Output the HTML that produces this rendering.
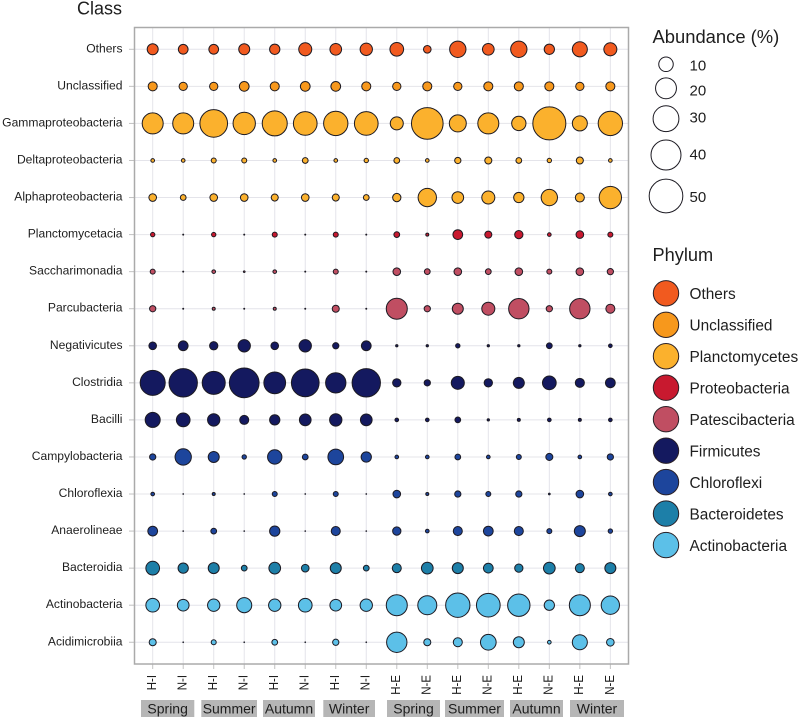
<!DOCTYPE html>
<html>
<head>
<meta charset="utf-8">
<title>Class abundance bubble chart</title>
<style>
html,body{margin:0;padding:0;background:#fff;width:800px;height:719px;overflow:hidden}
svg{display:block;font-family:"Liberation Sans",Arial,sans-serif}
text{fill:#1e1e1e}
</style>
</head>
<body>
<svg id="chart" width="800" height="719" viewBox="0 0 800 719" xmlns="http://www.w3.org/2000/svg"></svg>
<script>
const classNames = ["Others","Unclassified","Gammaproteobacteria","Deltaproteobacteria","Alphaproteobacteria","Planctomycetacia","Saccharimonadia","Parcubacteria","Negativicutes","Clostridia","Bacilli","Campylobacteria","Chloroflexia","Anaerolineae","Bacteroidia","Actinobacteria","Acidimicrobiia"];
const classPhyla = ["Others","Unclassified","Planctomycetes","Planctomycetes","Planctomycetes","Proteobacteria","Patescibacteria","Patescibacteria","Firmicutes","Firmicutes","Firmicutes","Chloroflexi","Chloroflexi","Chloroflexi","Bacteroidetes","Actinobacteria","Actinobacteria"];
const sampleLabels = ["H-I","N-I","H-I","N-I","H-I","N-I","H-I","N-I","H-E","N-E","H-E","N-E","H-E","N-E","H-E","N-E"];
const phylumNames = ["Others","Unclassified","Planctomycetes","Proteobacteria","Patescibacteria","Firmicutes","Chloroflexi","Bacteroidetes","Actinobacteria"];
const abundanceTicks = [10,20,30,40,50];

const valuesOthers = [6,4.8,4.8,6,5.3,8.2,6.7,7.4,9,3.1,12.5,6.7,12.5,5.3,10.7,8.2];
const valuesUnclassified = [4.2,3.6,3.6,4.8,4.2,4.8,4.8,4.2,3.6,4.2,3.6,4.2,4.2,4.2,3.6,4.2];
const valuesGamma = [20.2,20.2,34.2,22.7,28.2,25.4,26.7,25.4,8.2,44.4,13.5,20.2,9.8,48.2,10.7,26.7];
const valuesDelta = [0.9,0.9,1.5,1.5,0.9,1.9,0.9,1.2,1.9,0.9,2.2,2.7,1.9,1.2,2.7,0.9];
const valuesAlpha = [3.1,1.9,3.1,3.1,2.7,3.1,2.7,1.9,3.6,15.6,6.7,8.2,5.3,12.5,4.2,22.7];
const valuesPlancto = [1.2,0.17,1.2,0.17,1.5,0.17,1.5,0.17,1.9,0.67,4.8,2.7,3.6,0.9,3.1,1.5];
const valuesSaccharo = [1.5,0.17,0.9,0.3,0.9,0.17,1.5,0.17,3.1,1.9,3.1,1.9,3.1,1.5,3.1,2.2];
const valuesParcu = [2.2,0.17,0.67,0.17,0.67,0.17,2.7,0.17,20.2,2.2,6,8.2,19,2.2,19,4.2];
const valuesNegativi = [3.1,4.8,3.6,7.4,3.1,7.4,2.2,4.8,0.45,0.45,1.2,0.45,0.45,1.9,0.45,0.9];
const valuesClostridia = [28.2,35.8,24,39.3,21.5,34.3,18.9,35.8,3.6,2.2,8.2,3.6,6,9,4.2,4.8];
const valuesBacilli = [10.7,9,7.4,4.2,5.3,6.7,7.4,6.7,0.9,0.9,1.9,0.45,0.67,0.9,0.67,0.9];
const valuesCampylo = [2.2,12.5,6,1.2,9.8,1.9,11.6,5.3,0.9,0.9,1.9,0.9,1.5,2.7,0.9,2.2];
const valuesChloroflexia = [0.9,0.12,0.67,0.12,1.5,0.12,1.5,0.12,3.1,0.67,2.2,1.5,2.2,0.3,3.1,0.9];
const valuesAnaero = [4.8,0.12,1.9,0.12,5.3,0.12,4.2,0.12,3.6,0.9,4.2,4.8,4.2,1.5,6,1.2];
const valuesBacteroidia = [9,5.3,6,1.9,6.7,3.1,6,1.9,4.2,6.7,6,4.8,3.6,6.7,4.2,6];
const valuesActino = [9,6.7,7.4,10.7,7.4,9,6.7,7.4,20.2,16.7,26.7,25.4,22.7,5.3,20.2,15.5];
const valuesAcidi = [2.7,0.12,1.5,0.12,1.9,0.12,2.2,0.12,19,2.7,4.2,11.6,6,0.9,10.7,3.1];
const valueRows = [valuesOthers,valuesUnclassified,valuesGamma,valuesDelta,valuesAlpha,valuesPlancto,valuesSaccharo,valuesParcu,valuesNegativi,valuesClostridia,valuesBacilli,valuesCampylo,valuesChloroflexia,valuesAnaero,valuesBacteroidia,valuesActino,valuesAcidi];

const phylumColor = {Others:"#f15a1f",Unclassified:"#f7981c",Planctomycetes:"#fbb12d",Proteobacteria:"#c8192f",Patescibacteria:"#c04e62",Firmicutes:"#14195f",Chloroflexi:"#1d459c",Bacteroidetes:"#1d7fa8",Actinobacteria:"#5cc0e8"};

const svg = document.getElementById('chart');
const NS = 'http://www.w3.org/2000/svg';
function mk(tag, attrs, txt){
  const e = document.createElementNS(NS, tag);
  for (const k in attrs) e.setAttribute(k, attrs[k]);
  if (txt !== undefined) e.textContent = txt;
  svg.appendChild(e);
  return e;
}
const xScale = i => 152.7 + i * 30.51;
const yScale = j => 49.3 + j * 37.06;
const rScale = v => Math.max(0.25, 2.45 * Math.sqrt(v) - 0.5);
const panel = {l:134.5, t:27.5, r:628.5, b:664};

// grid lines
classNames.forEach((c, j) => {
  const g = mk('line', {x1:panel.l, x2:panel.r, y1:yScale(j), y2:yScale(j), stroke:'#e4e4ea', 'stroke-width':1});
  
  
  const t = mk('line', {x1:129, x2:panel.l, y1:yScale(j), y2:yScale(j), stroke:'#c2c2c2', 'stroke-width':1});
  
  
  const l = mk('text', {x:122.5, y:yScale(j) + 3, 'text-anchor':'end', 'font-size':12.1}, c);
  
  
});
sampleLabels.forEach((s, i) => {
  const g = mk('line', {x1:xScale(i), x2:xScale(i), y1:panel.t, y2:panel.b, stroke:'#e4e4ea', 'stroke-width':1});
  
  
  const t = mk('line', {x1:xScale(i), x2:xScale(i), y1:panel.b, y2:669, stroke:'#c2c2c2', 'stroke-width':1});
  
  
  const l = mk('text', {x:0, y:0, 'text-anchor':'end', 'font-size':13, transform:'translate(' + (xScale(i) + 3.4) + ',675) rotate(-90) scale(0.88,1)'}, s);
  
  
});

// panel border
const border = mk('rect', {x:panel.l, y:panel.t, width:panel.r - panel.l, height:panel.b - panel.t, fill:'none', stroke:'#aaaaaa', 'stroke-width':1.5});



// bubbles
valueRows.forEach((row, j) => {
  row.forEach((v, i) => {
    const c = mk('circle', {cx:xScale(i), cy:yScale(j), r:rScale(v), fill:phylumColor[classPhyla[j]], stroke:'#1c1a22', 'stroke-width':1});
    
    
  });
});

// season bars
[["Spring",141,194.3],["Summer",201.3,257],["Autumn",263,315],["Winter",323.3,375],["Spring",387,440],["Summer",445,504],["Autumn",510,563],["Winter",570,624]].forEach(s => {
  const b = mk('rect', {x:s[1], y:700, width:s[2] - s[1], height:17, fill:'#b6b6b6'});
  
  
  const t = mk('text', {x:(s[1] + s[2]) / 2, y:713.5, 'text-anchor':'middle', 'font-size':14}, s[0]);
  
  
});

// titles
const classTitle = mk('text', {x:77, y:14.5, 'font-size':18}, 'Class');


const abTitle = mk('text', {x:652.5, y:43, 'font-size':18.4}, 'Abundance (%)');


const phTitle = mk('text', {x:652.5, y:261, 'font-size':18.2}, 'Phylum');



// abundance legend
const abY = [64.3, 88.3, 118.7, 155, 196];
const abLabelY = [70.5, 95.5, 122.5, 159.5, 202];
abundanceTicks.forEach((v, k) => {
  const c = mk('circle', {cx:666, cy:abY[k], r:rScale(v), fill:'#fff', stroke:'#1c1a22', 'stroke-width':1});
  
  
  const t = mk('text', {x:689.5, y:abLabelY[k], 'font-size':15}, String(v));
  
  
});

// phylum legend
phylumNames.forEach((p, k) => {
  const y = 293.3 + k * 31.47;
  const c = mk('circle', {cx:666, cy:y, r:12.7, fill:phylumColor[p], stroke:'#2a2026', 'stroke-width':1});
  
  
  const t = mk('text', {x:689.5, y:y + 5.8, 'font-size':15.4}, p);
  
  
});
</script>
</body>
</html>
